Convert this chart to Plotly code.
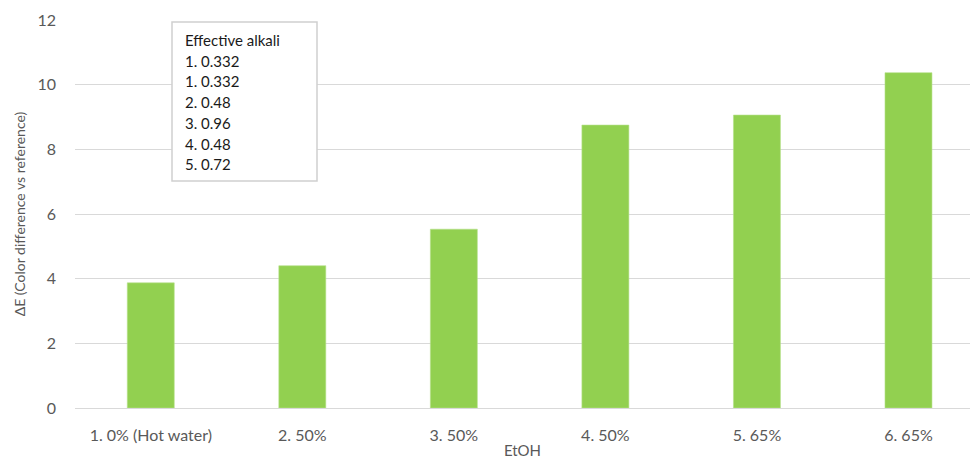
import plotly.graph_objects as go

# Samples (EtOH concentration) and measured colour difference
categories = ["1. 0% (Hot water)", "2. 50%", "3. 50%", "4. 50%", "5. 65%", "6. 65%"]
delta_e = [3.87, 4.40, 5.53, 8.75, 9.06, 10.37]

# Effective alkali charge per sample, shown in the note box
note_title = "Effective alkali"
note_lines = ["1. 0.332", "1. 0.332", "2. 0.48", "3. 0.96", "4. 0.48", "5. 0.72"]

y_ticks = [0, 2, 4, 6, 8, 10, 12]

W, H = 971, 461
ML, MR, MT, MB = 75, 1, 20, 53
plot_w = W - ML - MR
plot_h = H - MT - MB

font_family = "Lato, Carlito, Calibri, sans-serif"
tick_color = "#595959"

fig = go.Figure()
fig.add_trace(go.Bar(
    x=list(range(len(categories))),
    y=delta_e,
    width=0.31,
    marker=dict(color="#92d050", line=dict(color="#b5e08a", width=0.6)),
    hoverinfo="y",
))

# Note box with the effective alkali values
box_x0 = (172 - ML) / plot_w
box_x1 = (317 - ML) / plot_w
box_y0 = (H - MB - 181) / plot_h
box_y1 = (H - MB - 22) / plot_h
fig.add_shape(type="rect", xref="paper", yref="paper",
              x0=box_x0, x1=box_x1, y0=box_y0, y1=box_y1,
              line=dict(color="#d0d0d0", width=1.5), fillcolor="white", layer="above")

line_px = 20.7
text_x = (183 - ML) / plot_w
for i, txt in enumerate([note_title] + note_lines):
    ypix = 40 + i * line_px
    fig.add_annotation(xref="paper", yref="paper",
                       x=text_x, y=(H - MB - ypix) / plot_h,
                       xanchor="left", yanchor="middle", showarrow=False,
                       text=txt, font=dict(family=font_family, size=15, color="#1a1a1a"))

fig.update_layout(
    width=W, height=H,
    margin=dict(l=ML, r=MR, t=MT, b=MB, pad=0),
    paper_bgcolor="white", plot_bgcolor="white",
    showlegend=False,
    font=dict(family=font_family, color=tick_color),
    xaxis=dict(
        tickmode="array", tickvals=list(range(len(categories))), ticktext=categories,
        range=[-0.5, 5.406], showgrid=False, zeroline=False, showline=False,
        ticks="", ticklabelstandoff=16, tickfont=dict(size=16, color=tick_color),
        title=dict(text="EtOH", font=dict(size=15, color=tick_color), standoff=2),
    ),
    yaxis=dict(
        range=[0, 12], tickvals=y_ticks, showgrid=True, gridcolor="#d9d9d9", gridwidth=1,
        zeroline=True, zerolinecolor="#d9d9d9", zerolinewidth=1, showline=False,
        ticks="", ticklabelstandoff=18, tickfont=dict(size=16, color=tick_color),
        title=dict(text="ΔE (Color difference vs reference)", font=dict(size=14, color=tick_color), standoff=8),
    ),
)

fig.write_html("out.html")
